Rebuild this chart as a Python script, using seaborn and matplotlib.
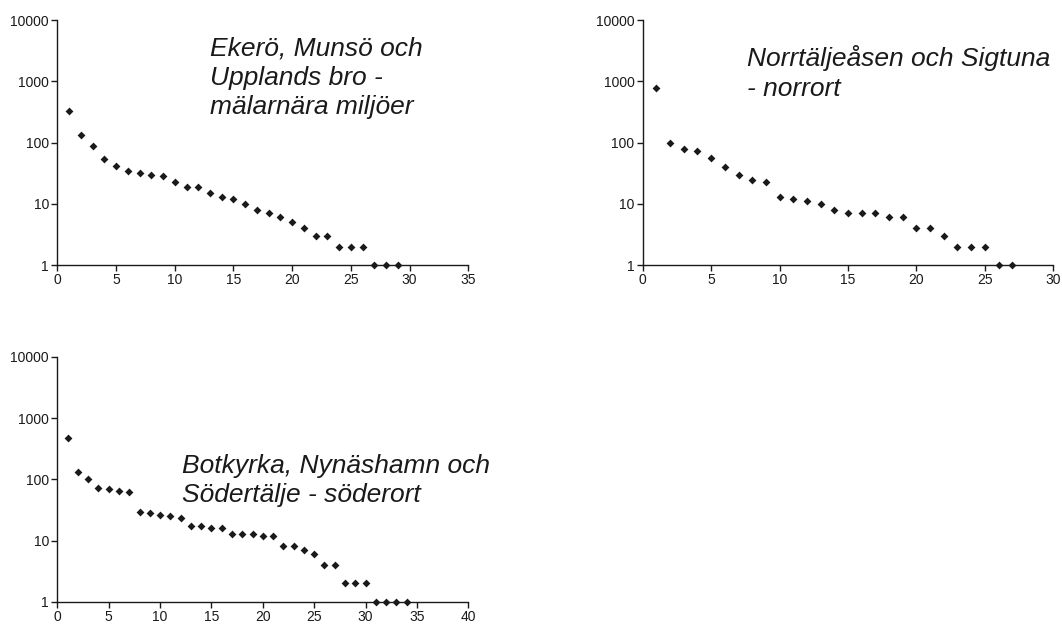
import matplotlib
matplotlib.use("Agg")
import matplotlib.pyplot as plt
from matplotlib.ticker import FixedLocator, FixedFormatter, NullLocator
import seaborn as sns
import pandas as pd

# Ranked counts per region (rank 1 = largest)
ekero_counts = [325, 133, 88, 54, 41, 34, 32, 29, 28, 23, 19, 19, 15, 13, 12,
                10, 8, 7, 6, 5, 4, 3, 3, 2, 2, 2, 1, 1, 1]
norrtalje_counts = [770, 100, 77, 74, 55, 40, 29, 24, 23, 13, 12, 11, 10, 8, 7,
                    7, 7, 6, 6, 4, 4, 3, 2, 2, 2, 1, 1]
botkyrka_counts = [470, 131, 103, 72, 69, 64, 61, 29, 28, 26, 25, 23, 17, 17, 16,
                   16, 13, 13, 13, 12, 12, 8, 8, 7, 6, 4, 4, 2, 2, 2, 1, 1, 1, 1]

panel_titles = [
    "Ekerö, Munsö och\nUpplands bro -\nmälarnära miljöer",
    "Norrtäljeåsen och Sigtuna\n- norrort",
    "Botkyrka, Nynäshamn och\nSödertälje - söderort",
]
x_limits = [35, 30, 40]
y_ticks = [1, 10, 100, 1000, 10000]
y_tick_labels = ["1", "10", "100", "1000", "10000"]

sns.set_theme(style="white")
plt.rcParams["font.family"] = ["Liberation Sans", "DejaVu Sans"]

fig = plt.figure(figsize=(10.62, 6.24), dpi=100)

# axes rectangles in figure fractions: left, bottom, width, height
rects = [
    (0.0540, 0.5753, 0.3870, 0.3926),
    (0.6052, 0.5753, 0.3866, 0.3926),
    (0.0540, 0.0357, 0.3870, 0.3922),
]
title_pos = [(0.1975, 0.9412), (0.7030, 0.9272), (0.1710, 0.2729)]

series = [ekero_counts, norrtalje_counts, botkyrka_counts]
ink = "#1a1a1a"

for counts, rect, xmax, title, tpos in zip(series, rects, x_limits, panel_titles, title_pos):
    ax = fig.add_axes(rect)
    df = pd.DataFrame({"rank": range(1, len(counts) + 1), "count": counts})
    sns.scatterplot(data=df, x="rank", y="count", ax=ax, marker="D", s=16,
                    color=ink, linewidth=0, clip_on=False, zorder=3)
    ax.set_yscale("log")
    ax.set_ylim(1, 10000)
    ax.set_xlim(0, xmax)
    ax.yaxis.set_major_locator(FixedLocator(y_ticks))
    ax.yaxis.set_major_formatter(FixedFormatter(y_tick_labels))
    ax.yaxis.set_minor_locator(NullLocator())
    ax.set_xticks(list(range(0, xmax + 1, 5)))
    ax.set_xlabel("")
    ax.set_ylabel("")
    for side in ("top", "right"):
        ax.spines[side].set_visible(False)
    for side in ("left", "bottom"):
        ax.spines[side].set_color(ink)
        ax.spines[side].set_linewidth(1.0)
    ax.tick_params(axis="both", which="major", direction="out", length=4,
                   width=1.0, color=ink, labelsize=10, labelcolor=ink, pad=2,
                   left=True, bottom=True)
    ax.patch.set_alpha(0)
    fig.text(tpos[0], tpos[1], title, fontsize=19, style="italic",
             color=ink, ha="left", va="top", linespacing=1.27)

fig.savefig("out.png", dpi=100, facecolor="white")
